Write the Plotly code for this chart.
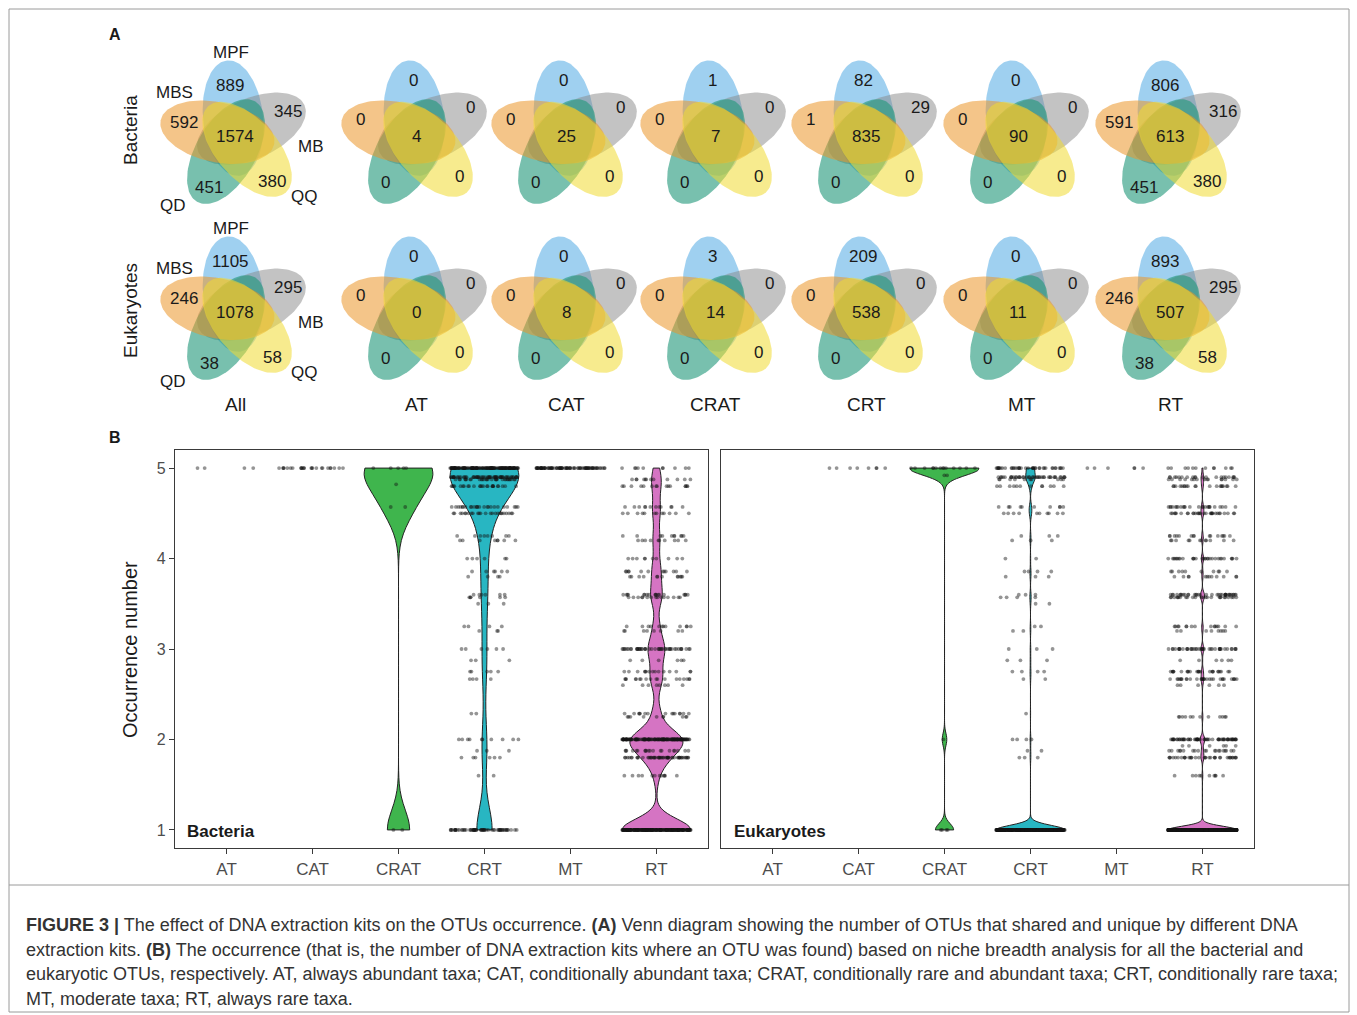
import numpy as np
import plotly.graph_objects as go

W, H = 1357, 1015
FONT = "Liberation Sans, Arial, sans-serif"

# ---------------- Panel A data (Venn counts) ----------------
groups = ["All", "AT", "CAT", "CRAT", "CRT", "MT", "RT"]
kits = ["MPF", "MB", "QQ", "QD", "MBS"]
bac_MPF = [889, 0, 0, 1, 82, 0, 806]
bac_MB = [345, 0, 0, 0, 29, 0, 316]
bac_QQ = [380, 0, 0, 0, 0, 0, 380]
bac_QD = [451, 0, 0, 0, 0, 0, 451]
bac_MBS = [592, 0, 0, 0, 1, 0, 591]
bac_core = [1574, 4, 25, 7, 835, 90, 613]
euk_MPF = [1105, 0, 0, 3, 209, 0, 893]
euk_MB = [295, 0, 0, 0, 0, 0, 295]
euk_QQ = [58, 0, 0, 0, 0, 0, 58]
euk_QD = [38, 0, 0, 0, 0, 0, 38]
euk_MBS = [246, 0, 0, 0, 0, 0, 246]
euk_core = [1078, 0, 8, 14, 538, 11, 507]

# ---------------- Panel B data (occurrence levels and OTU counts) ----------------
categories = ["AT", "CAT", "CRAT", "CRT", "MT", "RT"]

bac_AT_levels = [5]
bac_AT_counts = [4]
bac_CAT_levels = [5]
bac_CAT_counts = [25]
bac_CRAT_levels = [5, 4.82, 4.57, 1]
bac_CRAT_counts = [5, 1, 2, 2]
bac_CRT_levels = [5, 4.9, 4.875, 4.8, 4.571, 4.5, 4.25, 4.2, 4.0, 3.857, 3.8, 3.6, 3.571, 3.5,
                  3.25, 3.2, 3.0, 2.875, 2.75, 2.667, 2.286, 2.0, 1.875, 1.8, 1.6, 1.0]
bac_CRT_counts = [150, 60, 30, 25, 25, 25, 8, 8, 6, 6, 4, 6, 6, 3,
                  4, 3, 6, 3, 5, 4, 2, 10, 3, 6, 2, 60]
bac_MT_levels = [5]
bac_MT_counts = [90]
bac_RT_levels = [5, 4.875, 4.8, 4.571, 4.5, 4.25, 4.2, 4.0, 3.857, 3.8, 3.6, 3.571, 3.25, 3.2,
                 3.0, 2.875, 2.75, 2.667, 2.6, 2.286, 2.25, 2.0, 1.875, 1.8, 1.6, 1.0]
bac_RT_counts = [10, 12, 15, 12, 12, 10, 10, 10, 12, 12, 18, 15, 12, 8,
                 45, 6, 15, 18, 8, 15, 10, 140, 20, 50, 12, 220]

euk_CAT_levels = [5]
euk_CAT_counts = [8]
euk_CRAT_levels = [5, 4.92, 2.0, 1.0]
euk_CRAT_counts = [14, 2, 1, 4]
euk_CRT_levels = [5, 4.9, 4.875, 4.8, 4.571, 4.5, 4.25, 4.2, 4.0, 3.857, 3.8, 3.6, 3.571, 3.5,
                  3.25, 3.2, 3.0, 2.875, 2.75, 2.667, 2.286, 2.0, 1.875, 1.8, 1.0]
euk_CRT_counts = [40, 40, 10, 12, 10, 10, 3, 3, 2, 4, 3, 3, 4, 2,
                  2, 2, 3, 3, 4, 2, 1, 4, 2, 3, 400]
euk_MT_levels = [5]
euk_MT_counts = [6]
euk_RT_levels = [5, 4.9, 4.875, 4.8, 4.571, 4.5, 4.25, 4.2, 4.0, 3.857, 3.8, 3.6, 3.571, 3.25,
                 3.2, 3.0, 2.875, 2.75, 2.667, 2.6, 2.25, 2.0, 1.93, 1.875, 1.8, 1.6, 1.0]
euk_RT_counts = [12, 20, 15, 20, 25, 30, 15, 12, 30, 10, 12, 35, 25, 15,
                 8, 40, 6, 25, 30, 6, 12, 60, 6, 20, 35, 10, 900]

fig = go.Figure()

# ---------------- Venn diagrams (drawn on a pixel-space overlay axis) ----------------
venn_x = [235, 416, 566, 715, 866, 1018, 1170]
venn_y = [136, 312]
petal_angle = {"MPF": 90, "MB": 18, "QQ": -54, "QD": -126, "MBS": 162}
venn_fill = {"MPF": "rgba(80,170,228,0.55)", "MB": "rgba(135,135,135,0.5)",
             "QQ": "rgba(240,218,50,0.55)", "QD": "rgba(30,150,120,0.6)",
             "MBS": "rgba(235,150,40,0.55)"}
draw_order = ["MPF", "MB", "QD", "MBS", "QQ"]
ROT, DIST, A_MAJ, B_MIN = 6, 18, 58, 30
tt = np.linspace(0, 2 * np.pi, 120)


def ellipse(cx, cy, ang):
    th = np.deg2rad(ang + ROT)
    ex = cx + DIST * np.cos(th)
    ey = cy - DIST * np.sin(th)
    x = ex + A_MAJ * np.cos(tt) * np.cos(th) - B_MIN * np.sin(tt) * np.sin(th)
    y = ey - (A_MAJ * np.cos(tt) * np.sin(th) + B_MIN * np.sin(tt) * np.cos(th))
    return x, y


for cy in venn_y:
    for cx in venn_x:
        for k in draw_order:
            ex, ey = ellipse(cx, cy, petal_angle[k])
            fig.add_trace(go.Scatter(x=ex, y=ey, mode="lines", fill="toself",
                                     fillcolor=venn_fill[k], line=dict(width=0),
                                     hoverinfo="skip", showlegend=False,
                                     xaxis="x3", yaxis="y3"))

annotations = []


def ann(x, y, text, size, color="#1a1a1a", xanchor="center", angle=0, yanchor="middle"):
    annotations.append(dict(x=x, y=y, xref="x3", yref="y3", text=text, showarrow=False,
                            font=dict(size=size, color=color, family=FONT),
                            xanchor=xanchor, yanchor=yanchor, textangle=angle))


off_all = {"MPF": (-5, -51), "MB": (53, -25), "QQ": (37, 45), "QD": (-26, 51), "MBS": (-51, -14)}
off_gen = {"MPF": (-3, -56), "MB": (54, -29), "QQ": (43, 40), "QD": (-31, 46), "MBS": (-56, -17)}
set_lab = {"MPF": (-4, -84), "MB": (76, 10), "QQ": (69, 60), "QD": (-62, 69), "MBS": (-61, -44)}

bac_unique = {"MPF": bac_MPF, "MB": bac_MB, "QQ": bac_QQ, "QD": bac_QD, "MBS": bac_MBS}
euk_unique = {"MPF": euk_MPF, "MB": euk_MB, "QQ": euk_QQ, "QD": euk_QD, "MBS": euk_MBS}

for row, (uniq, core) in enumerate([(bac_unique, bac_core), (euk_unique, euk_core)]):
    cy = venn_y[row]
    for i, g in enumerate(groups):
        cx = venn_x[i]
        offs = off_all if (g in ("All", "RT")) else off_gen
        for k in kits:
            dx, dy = offs[k]
            ann(cx + dx, cy + dy, str(uniq[k][i]), 17)
        ann(cx, cy, str(core[i]), 17)
    for k in kits:
        dx, dy = set_lab[k]
        ann(venn_x[0] + dx, cy + dy, k, 17)

for i, g in enumerate(groups):
    ann(venn_x[i] + (4 if g == "MT" else 0), 404, g, 19)

ann(130, 130, "Bacteria", 19, angle=-90)
ann(130, 311, "Eukaryotes", 19, angle=-90)
ann(107, 34, "<b>A</b>", 16, xanchor="left")
ann(107, 437, "<b>B</b>", 16, xanchor="left")
ann(130, 650, "Occurrence number", 20, angle=-90)
ann(185, 831, "<b>Bacteria</b>", 17, xanchor="left")
ann(732, 831, "<b>Eukaryotes</b>", 17, xanchor="left")

caption = [
    "<b>FIGURE 3 |</b> The effect of DNA extraction kits on the OTUs occurrence. <b>(A)</b> Venn diagram showing the number of OTUs that shared and unique by different DNA",
    "extraction kits. <b>(B)</b> The occurrence (that is, the number of DNA extraction kits where an OTU was found) based on niche breadth analysis for all the bacterial and",
    "eukaryotic OTUs, respectively. AT, always abundant taxa; CAT, conditionally abundant taxa; CRAT, conditionally rare and abundant taxa; CRT, conditionally rare taxa;",
    "MT, moderate taxa; RT, always rare taxa.",
]
for j, line in enumerate(caption):
    ann(24, 925 + 24.7 * j, line, 18, color="#333333", xanchor="left")

# ---------------- Violins ----------------
vcolors = {"CRAT": "#3fb54d", "CRT": "#28b6c2", "RT": "#d574c3"}
bac_sets = {"AT": (bac_AT_levels, bac_AT_counts, 0.1), "CAT": (bac_CAT_levels, bac_CAT_counts, 0.1),
            "CRAT": (bac_CRAT_levels, bac_CRAT_counts, 0.22), "CRT": (bac_CRT_levels, bac_CRT_counts, 0.25),
            "MT": (bac_MT_levels, bac_MT_counts, 0.1), "RT": (bac_RT_levels, bac_RT_counts, 0.12)}
euk_sets = {"CAT": (euk_CAT_levels, euk_CAT_counts, 0.1), "CRAT": (euk_CRAT_levels, euk_CRAT_counts, 0.07),
            "CRT": (euk_CRT_levels, euk_CRT_counts, 0.05), "MT": (euk_MT_levels, euk_MT_counts, 0.1),
            "RT": (euk_RT_levels, euk_RT_counts, 0.04)}

for sets, xa, ya in [(bac_sets, "x", "y"), (euk_sets, "x2", "y2")]:
    for cat in categories:
        if cat not in sets:
            continue
        lv, ct, bw = sets[cat]
        vals = np.repeat(np.array(lv, dtype=float), ct)
        has_violin = cat in vcolors
        fig.add_trace(go.Violin(
            x=[cat] * len(vals), y=vals, xaxis=xa, yaxis=ya,
            width=0.8, points="all", jitter=1, pointpos=0,
            marker=dict(size=3.8, color="rgba(20,20,20,0.45)", line=dict(width=0)),
            fillcolor=vcolors[cat] if has_violin else "rgba(0,0,0,0)",
            line=dict(color="#222222" if has_violin else "rgba(0,0,0,0)", width=1 if has_violin else 0),
            bandwidth=bw, spanmode="hard", scalemode="width",
            showlegend=False, hoverinfo="skip", opacity=1))

axis_common = dict(showline=True, mirror=True, linecolor="#3a3a3a", linewidth=1.2,
                   ticks="outside", ticklen=5, tickcolor="#3a3a3a", showgrid=False, zeroline=False)
xcommon = dict(axis_common, type="category", categoryorder="array", categoryarray=categories,
               range=[-0.6, 5.6], tickfont=dict(size=17, color="#4d4d4d", family=FONT))
ycommon = dict(axis_common, range=[0.8, 5.2], tickvals=[1, 2, 3, 4, 5],
               tickfont=dict(size=16, color="#4d4d4d", family=FONT))

y_dom = [1 - 848 / H, 1 - 450 / H]
fig.update_layout(
    width=W, height=H, margin=dict(l=0, r=0, t=0, b=0),
    paper_bgcolor="white", plot_bgcolor="rgba(0,0,0,0)",
    violinmode="overlay",
    xaxis=dict(xcommon, domain=[175 / W, 708 / W], anchor="y"),
    yaxis=dict(ycommon, domain=y_dom, anchor="x"),
    xaxis2=dict(xcommon, domain=[721 / W, 1254 / W], anchor="y2"),
    yaxis2=dict(ycommon, domain=y_dom, anchor="x2", showticklabels=False, ticks=""),
    xaxis3=dict(domain=[0, 1], range=[0, W], visible=False, anchor="y3", fixedrange=True),
    yaxis3=dict(domain=[0, 1], range=[H, 0], visible=False, anchor="x3", fixedrange=True),
    annotations=annotations,
    shapes=[
        dict(type="rect", xref="x3", yref="y3", x0=9, y0=9, x1=1349, y1=1012,
             line=dict(color="#9a9a9a", width=1)),
        dict(type="line", xref="x3", yref="y3", x0=9, y0=885, x1=1349, y1=885,
             line=dict(color="#9a9a9a", width=1)),
    ],
    font=dict(family=FONT),
)

fig.write_html("out.html")
